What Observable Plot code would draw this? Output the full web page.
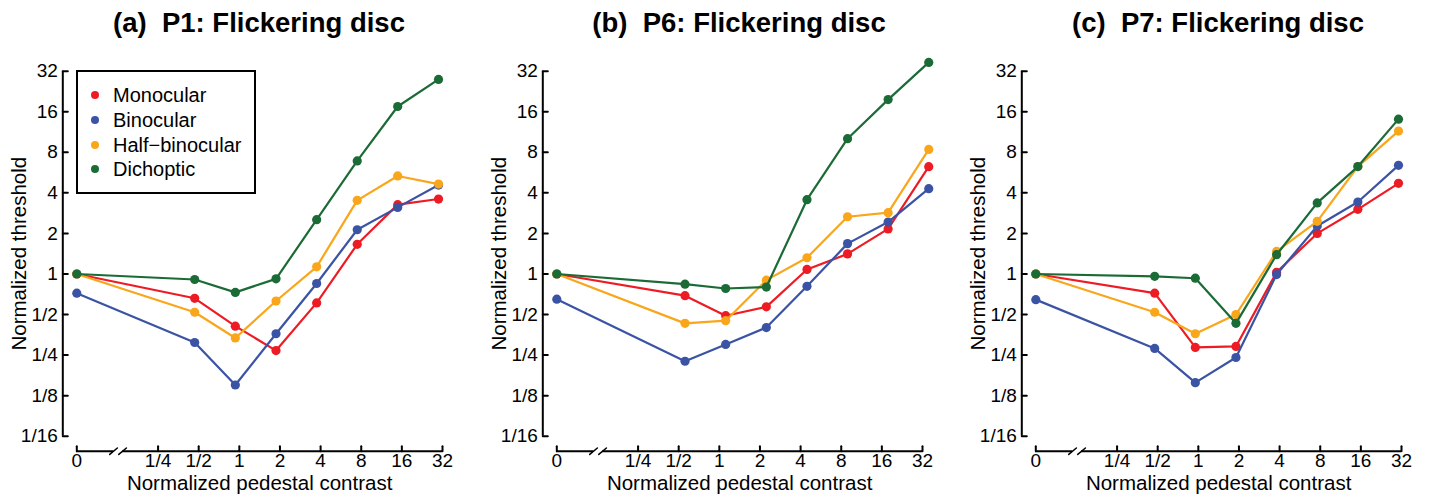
<!DOCTYPE html>
<html>
<head>
<meta charset="utf-8">
<script src="https://cdn.jsdelivr.net/npm/d3@7"></script>
<script src="https://cdn.jsdelivr.net/npm/@observablehq/plot@0.6"></script>
<style>
  html, body { margin: 0; padding: 0; background: #fff; }
  body { font-family: "Liberation Sans", Arial, Helvetica, sans-serif; }
  #root { position: relative; width: 1433px; height: 500px; overflow: hidden; background: #fff; }
  .panel { position: absolute; top: 0; width: 474px; height: 500px; }
  .title { position: absolute; top: 9px; left: 59px; width: 400px; text-align: center; font-weight: bold;
           font-size: 27.5px; line-height: 27px; white-space: pre; color: #000; }
  .chart { position: absolute; top: 45px; left: 0; }
  .legend { position: absolute; left: 76px; top: 70px; width: 180px; height: 124px; border: 2px solid #000;
            box-sizing: border-box; background: #fff; }
  .legend .row { position: absolute; left: 0; height: 24px; line-height: 24px; width: 176px; }
  .legend .dot { position: absolute; left: 13px; top: 8px; width: 8px; height: 8px; border-radius: 50%; }
  .legend .lab { position: absolute; left: 35px; top: 0; font-size: 20px; color: #000; white-space: nowrap; }
</style>
</head>
<body>
<div id="root"></div>
<script>
// ---------- data ----------
const conditions = ["Monocular", "Binocular", "Half\u2212binocular", "Dichoptic"];
const colors = ["#ED1C24", "#3A53A4", "#F9A61B", "#1B6B36"];
const titles = ["(a)  P1: Flickering disc", "(b)  P6: Flickering disc", "(c)  P7: Flickering disc"];
const xLabel = "Normalized pedestal contrast";
const yLabel = "Normalized threshold";

const xTickValues = [1/16, 1/4, 1/2, 1, 2, 4, 8, 16, 32];
const xTickLabels = ["0", "1/4", "1/2", "1", "2", "4", "8", "16", "32"];
const yTickValues = [1/16, 1/8, 1/4, 1/2, 1, 2, 4, 8, 16, 32];
const yTickLabels = ["1/16", "1/8", "1/4", "1/2", "1", "2", "4", "8", "16", "32"];

// pedestal contrast (0 = no pedestal) for each panel
const pedestalA = [0, 0.467, 0.934, 1.87, 3.74, 7.47, 14.9, 29.9];
const pedestalB = [0, 0.557, 1.114, 2.23, 4.46, 8.91, 17.8, 35.6];
const pedestalC = [0, 0.475, 0.95, 1.9, 3.8, 7.6, 15.2, 30.4];

// panel (a) P1
const monoA = [1, 0.66, 0.41, 0.27, 0.61, 1.66, 3.27, 3.6];
const binoA = [0.72, 0.31, 0.15, 0.36, 0.85, 2.13, 3.12, 4.57];
const halfA = [1, 0.52, 0.335, 0.63, 1.13, 3.52, 5.34, 4.65];
const dichA = [1, 0.91, 0.73, 0.92, 2.53, 6.9, 17.5, 27.8];

// panel (b) P6
const monoB = [1, 0.69, 0.49, 0.57, 1.08, 1.41, 2.16, 6.26];
const binoB = [0.65, 0.225, 0.30, 0.40, 0.81, 1.68, 2.43, 4.3];
const halfB = [1, 0.43, 0.45, 0.90, 1.32, 2.66, 2.85, 8.4];
const dichB = [1, 0.84, 0.78, 0.80, 3.56, 10.1, 19.7, 37.2];

// panel (c) P7
const monoC = [1, 0.72, 0.285, 0.29, 1.03, 2.0, 3.02, 4.71];
const binoC = [0.645, 0.28, 0.156, 0.24, 0.99, 2.27, 3.42, 6.4];
const halfC = [1, 0.52, 0.36, 0.50, 1.47, 2.46, 6.27, 11.5];
const dichC = [1, 0.96, 0.93, 0.43, 1.39, 3.37, 6.27, 14.1];

// ---------- layout constants ----------
const panelLefts = [0, 480, 959];
const ZERO_AT = xTickValues[0];         // pedestal 0 is drawn at the 1/16 position
const BREAK = [0.117, 0.1365];          // axis break around 1/8
const W = 474, H = 455;
const FONT = "Liberation Sans, Arial, Helvetica, sans-serif";

const tickShape = { draw(context, l) { context.moveTo(0, 0); context.lineTo(0, -l); } };

function makeChart(pedestal, seriesList) {
  const yMin = yTickValues[0], yMax = yTickValues[yTickValues.length - 1];
  const xMax = xTickValues[xTickValues.length - 1];
  const marks = [
    // y axis
    Plot.ruleX([ZERO_AT], {y1: () => yMin, y2: () => yMax, dx: -14, strokeWidth: 2, stroke: "#000"}),
    Plot.vector(yTickValues, {x: () => ZERO_AT, y: d => d, dx: -14, rotate: 90, length: 5, anchor: "start",
      shape: tickShape, strokeWidth: 2, stroke: "#000"}),
    Plot.text(yTickValues, {x: () => ZERO_AT, y: d => d, text: (d, i) => yTickLabels[i], dx: -19, textAnchor: "end",
      lineAnchor: "middle", fontSize: 19, fill: "#000"}),
    Plot.text([yLabel], {frameAnchor: "left", rotate: -90, dx: -57, textAnchor: "middle", lineAnchor: "middle",
      fontSize: 20.5, fill: "#000"}),
    // x axis (with break)
    Plot.ruleY([yMin], {x1: () => ZERO_AT, x2: () => BREAK[0], dy: 15, strokeWidth: 2, stroke: "#000"}),
    Plot.ruleY([yMin], {x1: () => BREAK[1], x2: () => xMax, dy: 15, strokeWidth: 2, stroke: "#000"}),
    Plot.vector(BREAK, {x: d => d, y: () => yMin, dy: 15, rotate: 50, length: 10, anchor: "middle",
      shape: tickShape, strokeWidth: 1.5, stroke: "#000"}),
    Plot.vector(xTickValues, {x: d => d, y: () => yMin, dy: 15, rotate: 0, length: 5, anchor: "start",
      shape: tickShape, strokeWidth: 2, stroke: "#000"}),
    Plot.text(xTickValues, {x: d => d, y: () => yMin, text: (d, i) => xTickLabels[i], dy: 25, lineAnchor: "middle",
      fontSize: 19, fill: "#000"}),
    Plot.text([xLabel], {frameAnchor: "bottom", dy: 47, textAnchor: "middle", lineAnchor: "middle",
      fontSize: 20.5, fill: "#000"})
  ];
  seriesList.forEach((vals, k) => {
    const rows = vals.map((v, i) => ({c: pedestal[i] === 0 ? ZERO_AT : pedestal[i], v}));
    marks.push(Plot.line(rows, {x: "c", y: "v", stroke: colors[k], strokeWidth: 2.2}));
    marks.push(Plot.dot(rows, {x: "c", y: "v", fill: colors[k], r: 4.6, stroke: "none"}));
  });
  return Plot.plot({
    width: W, height: H,
    marginLeft: 76.3, marginRight: 32, marginTop: 25.7, marginBottom: 64.3,
    x: {type: "log", base: 2, domain: [xTickValues[0], xMax], axis: null},
    y: {type: "log", base: 2, domain: [yMin, yMax], axis: null},
    style: {fontFamily: FONT, background: "#fff", overflow: "visible"},
    marks
  });
}

const panels = [
  {ped: pedestalA, series: [monoA, binoA, halfA, dichA]},
  {ped: pedestalB, series: [monoB, binoB, halfB, dichB]},
  {ped: pedestalC, series: [monoC, binoC, halfC, dichC]}
];

const root = document.getElementById("root");
panels.forEach((p, idx) => {
  const div = document.createElement("div");
  div.className = "panel";
  div.style.left = panelLefts[idx] + "px";
  const t = document.createElement("div");
  t.className = "title";
  t.textContent = titles[idx];
  div.appendChild(t);
  const chart = makeChart(p.ped, p.series);
  chart.classList.add("chart");
  div.appendChild(chart);
  if (idx === 0) {
    const lg = document.createElement("div");
    lg.className = "legend";
    const centers = [23, 48, 72.5, 97];
    conditions.forEach((name, k) => {
      const row = document.createElement("div");
      row.className = "row";
      row.style.top = (centers[k] - 12) + "px";
      const dot = document.createElement("span");
      dot.className = "dot";
      dot.style.background = colors[k];
      const lab = document.createElement("span");
      lab.className = "lab";
      lab.textContent = name;
      row.appendChild(dot); row.appendChild(lab);
      lg.appendChild(row);
    });
    div.appendChild(lg);
  }
  root.appendChild(div);
});
</script>
</body>
</html>
